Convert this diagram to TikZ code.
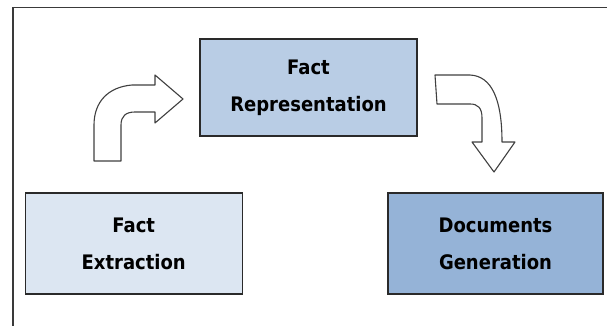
\documentclass[tikz,border=0pt]{standalone}
\usepackage{fontspec}
\setmainfont{DejaVu Sans Condensed}
\definecolor{frameline}{HTML}{3A3A3A}
\definecolor{boxline}{HTML}{2A2A2A}
\definecolor{extractfill}{HTML}{DCE6F2}
\definecolor{reprfill}{HTML}{B9CDE5}
\definecolor{genfill}{HTML}{95B3D7}
\tikzset{
  stagebox/.style={draw=boxline, line width=1.5pt, inner sep=0pt, align=center,
    font=\fontsize{20}{37}\selectfont\bfseries, text=black},
  blockarrow/.style={draw=black!75, line width=1.1pt, fill=white, line join=round}
}
\begin{document}
\begin{tikzpicture}[x=1pt, y=-1pt]
  \useasboundingbox (0,0) rectangle (607,326);
  % open frame: top and left sides only
  \draw[frameline, line width=1.6pt] (13,326) -- (13,7.5) -- (607,7.5);

  % the three stages
  \node[stagebox, fill=reprfill, minimum width=217pt, minimum height=97pt]
    (repr) at (308.5,87.5) {Fact\\Representation};
  \node[stagebox, fill=extractfill, minimum width=217pt, minimum height=101pt]
    (extract) at (133.75,243.5) {Fact\\Extraction};
  \node[stagebox, fill=genfill, minimum width=215pt, minimum height=101pt]
    (gen) at (495.5,243.5) {Documents\\Generation};

  % bent block arrow from extraction up to representation
  \draw[blockarrow]
    (94,161) -- (121,161) -- (121,125)
    .. controls (121,116) and (126,112) .. (135,112)
    -- (155,112) -- (155,123) -- (183,99) -- (155,75) -- (155,85) -- (132,85)
    .. controls (108,87) and (94,102) .. (94,125) -- cycle;

  % bent block arrow from representation down to generation
  \draw[blockarrow]
    (435,75) -- (470,75)
    .. controls (492,76) and (502,100) .. (502,142)
    -- (515,142) -- (494,172) -- (472,142) -- (482,142) -- (482,118)
    .. controls (482,108) and (478,104) .. (470,104)
    -- (437,104) -- cycle;
\end{tikzpicture}
\end{document}
